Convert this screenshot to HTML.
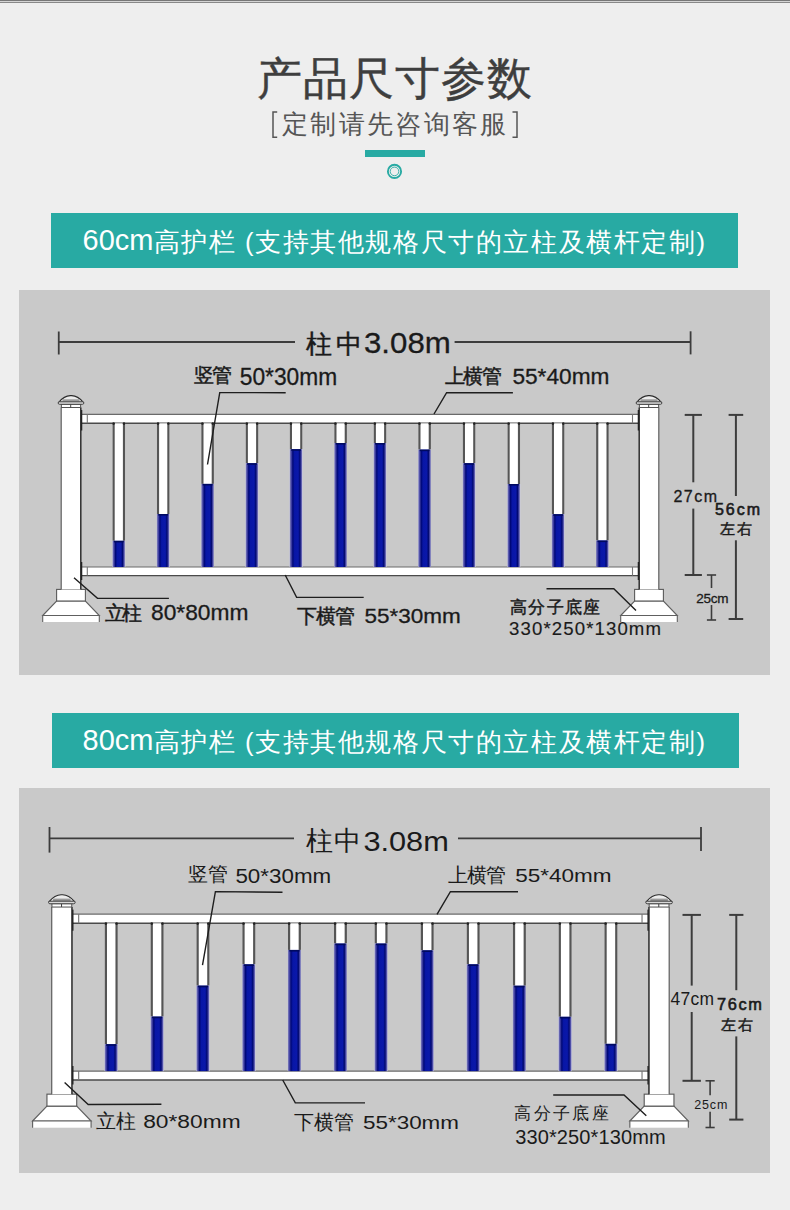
<!DOCTYPE html>
<html><head><meta charset="utf-8"><style>
html,body{margin:0;padding:0}
body{width:790px;height:1210px;background:#eeeeee;position:relative;overflow:hidden;font-family:"Liberation Sans",sans-serif}
.banner{position:absolute;background:#28aaa3}
.gbox{position:absolute;left:19px;width:751px;height:385px;background:#c9c9c9}
svg{position:absolute;left:0;top:0}
svg text{font-family:"Liberation Sans",sans-serif}
</style></head><body>
<div style="position:absolute;left:0;top:0;width:790px;height:1px;background:#777"></div><div style="position:absolute;left:0;top:1px;width:790px;height:1px;background:#d4d4d4"></div><div style="position:absolute;left:0;top:2px;width:790px;height:1px;background:#888"></div>
<div class="banner" style="left:51px;top:213px;width:687px;height:55px"></div>
<div class="banner" style="left:52px;top:713px;width:687px;height:55px"></div>
<div class="gbox" style="top:290px"></div>
<div class="gbox" style="top:788px"></div>
<svg width="790" height="1210" viewBox="0 0 790 1210">
<text x="257.00" y="94.00" font-size="45.29" fill="#3e3e3e" stroke="#3e3e3e" stroke-width="0.4" textLength="275.00" lengthAdjust="spacing">产品尺寸参数</text>
<text x="282.00" y="133.45" font-size="25.85" fill="#555" textLength="224.20" lengthAdjust="spacing">定制请先咨询客服</text>
<path d="M277.2,112 H273 V137.2 H277.2" fill="none" stroke="#555" stroke-width="1.5"/>
<path d="M512.5,112 H517 V137.2 H512.5" fill="none" stroke="#555" stroke-width="1.5"/>
<rect x="365" y="150" width="60" height="7" fill="#28aaa3"/>
<circle cx="394.5" cy="171.4" r="6.6" fill="none" stroke="#28aaa3" stroke-width="1.9"/>
<circle cx="394.5" cy="171.4" r="4.3" fill="none" stroke="#28aaa3" stroke-width="0.9"/>
<text x="82.60" y="249.80" font-size="28.81" fill="#fff" textLength="70.80" lengthAdjust="spacingAndGlyphs">60cm</text>
<text x="153.60" y="250.50" font-size="25.60" fill="#fff" textLength="551.40" lengthAdjust="spacing">高护栏 (支持其他规格尺寸的立柱及横杆定制)</text>
<text x="82.60" y="749.80" font-size="28.81" fill="#fff" textLength="70.80" lengthAdjust="spacingAndGlyphs">80cm</text>
<text x="153.60" y="750.50" font-size="25.60" fill="#fff" textLength="551.40" lengthAdjust="spacing">高护栏 (支持其他规格尺寸的立柱及横杆定制)</text>
<defs><linearGradient id="bg" x1="0" y1="0" x2="1" y2="0"><stop offset="0" stop-color="#8a8ac0"/><stop offset="0.14" stop-color="#3c3ca0"/><stop offset="0.24" stop-color="#000878"/><stop offset="0.38" stop-color="#0816a6"/><stop offset="0.66" stop-color="#0a18aa"/><stop offset="0.8" stop-color="#000870"/><stop offset="0.9" stop-color="#4a4aa6"/><stop offset="1" stop-color="#a8a8cc"/></linearGradient></defs>
<g id="f1"><rect x="81" y="414.3" width="558" height="9.0" fill="#fff"/>
<line x1="81" y1="414.3" x2="639" y2="414.3" stroke="#6a6a6a" stroke-width="1.2"/>
<line x1="81" y1="423.3" x2="639" y2="423.3" stroke="#4a4a4a" stroke-width="1.4"/>
<line x1="87.3" y1="414.3" x2="87.3" y2="423.3" stroke="#777" stroke-width="1.1"/>
<line x1="632.5" y1="414.3" x2="632.5" y2="423.3" stroke="#777" stroke-width="1.1"/>
<line x1="81.4" y1="410" x2="81.4" y2="430.5" stroke="#151515" stroke-width="1.7"/>
<line x1="638.6" y1="410" x2="638.6" y2="430.5" stroke="#151515" stroke-width="1.7"/>
<rect x="81" y="567.0" width="558" height="8.6" fill="#fff"/>
<line x1="81" y1="567.0" x2="639" y2="567.0" stroke="#6a6a6a" stroke-width="1.2"/>
<line x1="81" y1="575.6" x2="639" y2="575.6" stroke="#4a4a4a" stroke-width="1.4"/>
<line x1="87.3" y1="567.0" x2="87.3" y2="575.6" stroke="#777" stroke-width="1.1"/>
<line x1="632.5" y1="567.0" x2="632.5" y2="575.6" stroke="#777" stroke-width="1.1"/>
<line x1="81.4" y1="562" x2="81.4" y2="580" stroke="#151515" stroke-width="1.7"/>
<line x1="638.6" y1="562" x2="638.6" y2="580" stroke="#151515" stroke-width="1.7"/>
<rect x="112.4" y="423.3" width="12.8" height="143.7" fill="#fff"/>
<line x1="113.60000000000001" y1="423" x2="113.60000000000001" y2="540.8" stroke="#555" stroke-width="2.2"/>
<line x1="124.0" y1="423" x2="124.0" y2="540.8" stroke="#555" stroke-width="2.2"/>
<circle cx="113.60000000000001" cy="423.6" r="1.3" fill="#222"/><circle cx="124.0" cy="423.6" r="1.3" fill="#222"/>
<rect x="112.4" y="540.8" width="12.8" height="26.2" fill="url(#bg)"/>
<rect x="113.9" y="540.8" width="9.8" height="1.6" fill="#000a60"/>
<rect x="156.8" y="423.3" width="12.8" height="143.7" fill="#fff"/>
<line x1="158.0" y1="423" x2="158.0" y2="514" stroke="#555" stroke-width="2.2"/>
<line x1="168.40000000000003" y1="423" x2="168.40000000000003" y2="514" stroke="#555" stroke-width="2.2"/>
<circle cx="158.0" cy="423.6" r="1.3" fill="#222"/><circle cx="168.40000000000003" cy="423.6" r="1.3" fill="#222"/>
<rect x="156.8" y="514" width="12.8" height="53.0" fill="url(#bg)"/>
<rect x="158.3" y="514" width="9.8" height="1.6" fill="#000a60"/>
<rect x="201.2" y="423.3" width="12.8" height="143.7" fill="#fff"/>
<line x1="202.39999999999998" y1="423" x2="202.39999999999998" y2="483.9" stroke="#555" stroke-width="2.2"/>
<line x1="212.8" y1="423" x2="212.8" y2="483.9" stroke="#555" stroke-width="2.2"/>
<circle cx="202.39999999999998" cy="423.6" r="1.3" fill="#222"/><circle cx="212.8" cy="423.6" r="1.3" fill="#222"/>
<rect x="201.2" y="483.9" width="12.8" height="83.1" fill="url(#bg)"/>
<rect x="202.7" y="483.9" width="9.8" height="1.6" fill="#000a60"/>
<rect x="245.6" y="423.3" width="12.8" height="143.7" fill="#fff"/>
<line x1="246.79999999999998" y1="423" x2="246.79999999999998" y2="463.2" stroke="#555" stroke-width="2.2"/>
<line x1="257.2" y1="423" x2="257.2" y2="463.2" stroke="#555" stroke-width="2.2"/>
<circle cx="246.79999999999998" cy="423.6" r="1.3" fill="#222"/><circle cx="257.2" cy="423.6" r="1.3" fill="#222"/>
<rect x="245.6" y="463.2" width="12.8" height="103.8" fill="url(#bg)"/>
<rect x="247.1" y="463.2" width="9.8" height="1.6" fill="#000a60"/>
<rect x="289.7" y="423.3" width="12.8" height="143.7" fill="#fff"/>
<line x1="290.9" y1="423" x2="290.9" y2="449.2" stroke="#555" stroke-width="2.2"/>
<line x1="301.3" y1="423" x2="301.3" y2="449.2" stroke="#555" stroke-width="2.2"/>
<circle cx="290.9" cy="423.6" r="1.3" fill="#222"/><circle cx="301.3" cy="423.6" r="1.3" fill="#222"/>
<rect x="289.7" y="449.2" width="12.8" height="117.8" fill="url(#bg)"/>
<rect x="291.2" y="449.2" width="9.8" height="1.6" fill="#000a60"/>
<rect x="334.2" y="423.3" width="12.8" height="143.7" fill="#fff"/>
<line x1="335.4" y1="423" x2="335.4" y2="443" stroke="#555" stroke-width="2.2"/>
<line x1="345.8" y1="423" x2="345.8" y2="443" stroke="#555" stroke-width="2.2"/>
<circle cx="335.4" cy="423.6" r="1.3" fill="#222"/><circle cx="345.8" cy="423.6" r="1.3" fill="#222"/>
<rect x="334.2" y="443" width="12.8" height="124.0" fill="url(#bg)"/>
<rect x="335.7" y="443" width="9.8" height="1.6" fill="#000a60"/>
<rect x="373.6" y="423.3" width="12.8" height="143.7" fill="#fff"/>
<line x1="374.8" y1="423" x2="374.8" y2="443" stroke="#555" stroke-width="2.2"/>
<line x1="385.20000000000005" y1="423" x2="385.20000000000005" y2="443" stroke="#555" stroke-width="2.2"/>
<circle cx="374.8" cy="423.6" r="1.3" fill="#222"/><circle cx="385.20000000000005" cy="423.6" r="1.3" fill="#222"/>
<rect x="373.6" y="443" width="12.8" height="124.0" fill="url(#bg)"/>
<rect x="375.1" y="443" width="9.8" height="1.6" fill="#000a60"/>
<rect x="418.2" y="423.3" width="12.8" height="143.7" fill="#fff"/>
<line x1="419.4" y1="423" x2="419.4" y2="449.6" stroke="#555" stroke-width="2.2"/>
<line x1="429.8" y1="423" x2="429.8" y2="449.6" stroke="#555" stroke-width="2.2"/>
<circle cx="419.4" cy="423.6" r="1.3" fill="#222"/><circle cx="429.8" cy="423.6" r="1.3" fill="#222"/>
<rect x="418.2" y="449.6" width="12.8" height="117.4" fill="url(#bg)"/>
<rect x="419.7" y="449.6" width="9.8" height="1.6" fill="#000a60"/>
<rect x="462.7" y="423.3" width="12.8" height="143.7" fill="#fff"/>
<line x1="463.9" y1="423" x2="463.9" y2="463.2" stroke="#555" stroke-width="2.2"/>
<line x1="474.3" y1="423" x2="474.3" y2="463.2" stroke="#555" stroke-width="2.2"/>
<circle cx="463.9" cy="423.6" r="1.3" fill="#222"/><circle cx="474.3" cy="423.6" r="1.3" fill="#222"/>
<rect x="462.7" y="463.2" width="12.8" height="103.8" fill="url(#bg)"/>
<rect x="464.2" y="463.2" width="9.8" height="1.6" fill="#000a60"/>
<rect x="507.4" y="423.3" width="12.8" height="143.7" fill="#fff"/>
<line x1="508.59999999999997" y1="423" x2="508.59999999999997" y2="484" stroke="#555" stroke-width="2.2"/>
<line x1="518.9999999999999" y1="423" x2="518.9999999999999" y2="484" stroke="#555" stroke-width="2.2"/>
<circle cx="508.59999999999997" cy="423.6" r="1.3" fill="#222"/><circle cx="518.9999999999999" cy="423.6" r="1.3" fill="#222"/>
<rect x="507.4" y="484" width="12.8" height="83.0" fill="url(#bg)"/>
<rect x="508.9" y="484" width="9.8" height="1.6" fill="#000a60"/>
<rect x="551.7" y="423.3" width="12.8" height="143.7" fill="#fff"/>
<line x1="552.9000000000001" y1="423" x2="552.9000000000001" y2="514.2" stroke="#555" stroke-width="2.2"/>
<line x1="563.3" y1="423" x2="563.3" y2="514.2" stroke="#555" stroke-width="2.2"/>
<circle cx="552.9000000000001" cy="423.6" r="1.3" fill="#222"/><circle cx="563.3" cy="423.6" r="1.3" fill="#222"/>
<rect x="551.7" y="514.2" width="12.8" height="52.8" fill="url(#bg)"/>
<rect x="553.2" y="514.2" width="9.8" height="1.6" fill="#000a60"/>
<rect x="596" y="423.3" width="12.8" height="143.7" fill="#fff"/>
<line x1="597.2" y1="423" x2="597.2" y2="540.5" stroke="#555" stroke-width="2.2"/>
<line x1="607.5999999999999" y1="423" x2="607.5999999999999" y2="540.5" stroke="#555" stroke-width="2.2"/>
<circle cx="597.2" cy="423.6" r="1.3" fill="#222"/><circle cx="607.5999999999999" cy="423.6" r="1.3" fill="#222"/>
<rect x="596" y="540.5" width="12.8" height="26.5" fill="url(#bg)"/>
<rect x="597.5" y="540.5" width="9.8" height="1.6" fill="#000a60"/>
<path d="M42.7,615.5 L56.6,601 L85.4,601 L99.3,615.5 Z" fill="#fff" stroke="#606060" stroke-width="1.1"/>
<rect x="42.7" y="615.5" width="56.6" height="6.5" fill="#fff"/>
<path d="M42.7,622 V615.5 H99.3 V622" fill="none" stroke="#606060" stroke-width="1.1"/>
<rect x="56.6" y="589.4" width="28.8" height="11.6" fill="#fff" stroke="#5a5a5a" stroke-width="1.1"/>
<rect x="61.2" y="407.5" width="19.6" height="182" fill="#fff"/>
<line x1="61.2" y1="407.5" x2="61.2" y2="589.4" stroke="#606060" stroke-width="1.2"/>
<line x1="80.8" y1="407.5" x2="80.8" y2="589.4" stroke="#2e2e2e" stroke-width="1.5"/>
<rect x="61.4" y="404.2" width="19.2" height="3.3" fill="#fff" stroke="#555" stroke-width="1"/>
<line x1="70.7" y1="404.2" x2="70.7" y2="407.5" stroke="#444" stroke-width="1"/>
<path d="M58.7,402.3 Q64.5,395.2 71.0,395.6 Q77.5,395.2 83.3,402.3 Z" fill="#ececec" stroke="#2a2a2a" stroke-width="1.1"/>
<rect x="62.5" y="399.3" width="17" height="2.5" fill="#9a9a9a"/>
<rect x="58.2" y="401.8" width="25.6" height="2.5" rx="1.25" fill="#d8d8d8" stroke="#3a3a3a" stroke-width="0.9"/>
<path d="M620.7,615.5 L634.6,601 L663.4,601 L677.3,615.5 Z" fill="#fff" stroke="#606060" stroke-width="1.1"/>
<rect x="620.7" y="615.5" width="56.6" height="6.5" fill="#fff"/>
<path d="M620.7,622 V615.5 H677.3 V622" fill="none" stroke="#606060" stroke-width="1.1"/>
<rect x="634.6" y="589.4" width="28.8" height="11.6" fill="#fff" stroke="#5a5a5a" stroke-width="1.1"/>
<rect x="639.2" y="407.5" width="19.6" height="182" fill="#fff"/>
<line x1="639.2" y1="407.5" x2="639.2" y2="589.4" stroke="#2e2e2e" stroke-width="1.5"/>
<line x1="658.8" y1="407.5" x2="658.8" y2="589.4" stroke="#606060" stroke-width="1.2"/>
<rect x="639.4" y="404.2" width="19.2" height="3.3" fill="#fff" stroke="#555" stroke-width="1"/>
<line x1="648.7" y1="404.2" x2="648.7" y2="407.5" stroke="#444" stroke-width="1"/>
<path d="M636.7,402.3 Q642.5,395.2 649.0,395.6 Q655.5,395.2 661.3,402.3 Z" fill="#ececec" stroke="#2a2a2a" stroke-width="1.1"/>
<rect x="640.5" y="399.3" width="17" height="2.5" fill="#9a9a9a"/>
<rect x="636.2" y="401.8" width="25.6" height="2.5" rx="1.25" fill="#d8d8d8" stroke="#3a3a3a" stroke-width="0.9"/></g>
<use href="#f1" transform="matrix(1.0333 0 0 1.0287 -11.53 487.85)"/>
<line x1="58.75" y1="331.5" x2="58.75" y2="354.5" stroke="#3c3c3c" stroke-width="1.8"/>
<line x1="58.75" y1="342" x2="295" y2="342" stroke="#3c3c3c" stroke-width="1.8"/>
<line x1="454.6" y1="342" x2="690.6" y2="342" stroke="#3c3c3c" stroke-width="1.8"/>
<line x1="690.6" y1="331.3" x2="690.6" y2="354.4" stroke="#3c3c3c" stroke-width="1.8"/>
<polyline points="285.7,392.7 219.75,392.6 207.5,464.5" fill="none" stroke="#1e1e1e" stroke-width="1.4"/>
<polyline points="512.9,392.7 446.6,392.7 434,414" fill="none" stroke="#1e1e1e" stroke-width="1.4"/>
<polyline points="74,577.7 97.5,598.4 168.9,598.4" fill="none" stroke="#1e1e1e" stroke-width="1.4"/>
<polyline points="285.2,575 296.6,597.4 363.7,597.4" fill="none" stroke="#1e1e1e" stroke-width="1.4"/>
<polyline points="546.5,588.8 613.8,588.8 636,610.5" fill="none" stroke="#1e1e1e" stroke-width="1.4"/>
<line x1="684.6999999999999" y1="414.9" x2="701.9" y2="414.9" stroke="#3c3c3c" stroke-width="2.0"/>
<line x1="684.6999999999999" y1="575" x2="701.9" y2="575" stroke="#3c3c3c" stroke-width="2.0"/>
<line x1="693.3" y1="414.9" x2="693.3" y2="482.3" stroke="#3c3c3c" stroke-width="2.0"/>
<line x1="693.3" y1="508.6" x2="693.3" y2="575" stroke="#3c3c3c" stroke-width="2.0"/>
<line x1="728.6" y1="414.9" x2="743.1999999999999" y2="414.9" stroke="#3c3c3c" stroke-width="2.0"/>
<line x1="728.6" y1="619" x2="743.1999999999999" y2="619" stroke="#3c3c3c" stroke-width="2.0"/>
<line x1="735.9" y1="414.9" x2="735.9" y2="496" stroke="#3c3c3c" stroke-width="2.0"/>
<line x1="735.9" y1="540.3" x2="735.9" y2="619" stroke="#3c3c3c" stroke-width="2.0"/>
<line x1="706.9" y1="575" x2="716.1" y2="575" stroke="#3c3c3c" stroke-width="1.6"/>
<line x1="706.9" y1="620" x2="716.1" y2="620" stroke="#3c3c3c" stroke-width="1.6"/>
<line x1="711.5" y1="575" x2="711.5" y2="588" stroke="#3c3c3c" stroke-width="1.6"/>
<line x1="711.5" y1="605" x2="711.5" y2="620" stroke="#3c3c3c" stroke-width="1.6"/>
<text x="306.00" y="352.75" font-size="25.99" fill="#1a1a1a" stroke="#1a1a1a" stroke-width="0.45" textLength="56.20" lengthAdjust="spacing">柱中</text>
<text x="364.00" y="353.30" font-size="29.67" fill="#1a1a1a" stroke="#1a1a1a" stroke-width="0.3" textLength="86.80" lengthAdjust="spacingAndGlyphs">3.08m</text>
<text x="194.20" y="382.45" font-size="19.50" fill="#1a1a1a" stroke="#1a1a1a" stroke-width="0.45" textLength="37.60" lengthAdjust="spacing">竖管</text>
<text x="239.80" y="385.00" font-size="23.27" fill="#1a1a1a" stroke="#1a1a1a" stroke-width="0.3" textLength="97.40" lengthAdjust="spacingAndGlyphs">50*30mm</text>
<text x="444.60" y="382.60" font-size="19.50" fill="#1a1a1a" stroke="#1a1a1a" stroke-width="0.45" textLength="57.40" lengthAdjust="spacing">上横管</text>
<text x="512.40" y="384.10" font-size="21.82" fill="#1a1a1a" stroke="#1a1a1a" stroke-width="0.3" textLength="97.00" lengthAdjust="spacingAndGlyphs">55*40mm</text>
<text x="104.80" y="619.70" font-size="19.50" fill="#1a1a1a" stroke="#1a1a1a" stroke-width="0.45" textLength="37.40" lengthAdjust="spacing">立柱</text>
<text x="151.00" y="619.50" font-size="22.50" fill="#1a1a1a" stroke="#1a1a1a" stroke-width="0.3" textLength="97.40" lengthAdjust="spacingAndGlyphs">80*80mm</text>
<text x="297.00" y="622.85" font-size="19.50" fill="#1a1a1a" stroke="#1a1a1a" stroke-width="0.45" textLength="58.00" lengthAdjust="spacing">下横管</text>
<text x="364.40" y="623.20" font-size="20.65" fill="#1a1a1a" stroke="#1a1a1a" stroke-width="0.3" textLength="96.40" lengthAdjust="spacingAndGlyphs">55*30mm</text>
<text x="510.00" y="613.05" font-size="16.50" fill="#1a1a1a" stroke="#1a1a1a" stroke-width="0.45" textLength="90.20" lengthAdjust="spacing">高分子底座</text>
<text x="509.00" y="635.25" font-size="18.63" fill="#1a1a1a" stroke="#1a1a1a" stroke-width="0.15" textLength="152.00" lengthAdjust="spacing">330*250*130mm</text>
<text x="673.40" y="501.50" font-size="16.00" fill="#1a1a1a" stroke="#1a1a1a" stroke-width="0.3" textLength="43.60" lengthAdjust="spacing">27cm</text>
<text x="715.00" y="514.50" font-size="16.00" fill="#1a1a1a" stroke="#1a1a1a" stroke-width="0.6" textLength="45.00" lengthAdjust="spacing">56cm</text>
<text x="720.00" y="534.00" font-size="15.00" fill="#1a1a1a" stroke="#1a1a1a" stroke-width="0.45" textLength="32.00" lengthAdjust="spacing">左右</text>
<text x="696.20" y="602.50" font-size="13.50" fill="#1a1a1a" stroke="#1a1a1a" stroke-width="0.3" textLength="32.20" lengthAdjust="spacing">25cm</text>
<line x1="49.5" y1="827" x2="49.5" y2="852.6" stroke="#3c3c3c" stroke-width="1.8"/>
<line x1="49.5" y1="838.4" x2="294" y2="838.4" stroke="#3c3c3c" stroke-width="1.8"/>
<line x1="458" y1="838.4" x2="701" y2="838.4" stroke="#3c3c3c" stroke-width="1.8"/>
<line x1="701" y1="827" x2="701" y2="851" stroke="#3c3c3c" stroke-width="1.8"/>
<polyline points="282.5,892.3 215.4,891.6 202.5,965.1" fill="none" stroke="#1e1e1e" stroke-width="1.4"/>
<polyline points="518,891.7 450.4,891.7 437,914.4" fill="none" stroke="#1e1e1e" stroke-width="1.4"/>
<polyline points="161.4,1104.2 88.2,1104.5 64.6,1082.5" fill="none" stroke="#1e1e1e" stroke-width="1.4"/>
<polyline points="365,1102.9 295.3,1102.9 282.7,1080" fill="none" stroke="#1e1e1e" stroke-width="1.4"/>
<polyline points="553.2,1095 624,1095 646.3,1115.7" fill="none" stroke="#1e1e1e" stroke-width="1.4"/>
<line x1="682.5" y1="914.9" x2="700.9000000000001" y2="914.9" stroke="#3c3c3c" stroke-width="2.0"/>
<line x1="682.5" y1="1080.8" x2="700.9000000000001" y2="1080.8" stroke="#3c3c3c" stroke-width="2.0"/>
<line x1="691.7" y1="914.9" x2="691.7" y2="985.6" stroke="#3c3c3c" stroke-width="2.0"/>
<line x1="691.7" y1="1012" x2="691.7" y2="1080.8" stroke="#3c3c3c" stroke-width="2.0"/>
<line x1="729.1999999999999" y1="914.9" x2="743.4" y2="914.9" stroke="#3c3c3c" stroke-width="2.0"/>
<line x1="729.1999999999999" y1="1119.6" x2="743.4" y2="1119.6" stroke="#3c3c3c" stroke-width="2.0"/>
<line x1="736.3" y1="914.9" x2="736.3" y2="990.2" stroke="#3c3c3c" stroke-width="2.0"/>
<line x1="736.3" y1="1036.4" x2="736.3" y2="1119.6" stroke="#3c3c3c" stroke-width="2.0"/>
<line x1="705.5" y1="1080.8" x2="714.7" y2="1080.8" stroke="#3c3c3c" stroke-width="1.6"/>
<line x1="705.5" y1="1127.5" x2="714.7" y2="1127.5" stroke="#3c3c3c" stroke-width="1.6"/>
<line x1="710.1" y1="1080.8" x2="710.1" y2="1095.2" stroke="#3c3c3c" stroke-width="1.6"/>
<line x1="710.1" y1="1111.7" x2="710.1" y2="1127.5" stroke="#3c3c3c" stroke-width="1.6"/>
<text x="306.20" y="849.55" font-size="26.89" fill="#1a1a1a" textLength="55.00" lengthAdjust="spacing">柱中</text>
<text x="363.40" y="850.65" font-size="28.00" fill="#1a1a1a" textLength="85.40" lengthAdjust="spacingAndGlyphs">3.08m</text>
<text x="187.80" y="881.00" font-size="19.50" fill="#1a1a1a" textLength="40.40" lengthAdjust="spacing">竖管</text>
<text x="235.40" y="882.85" font-size="19.66" fill="#1a1a1a" textLength="95.80" lengthAdjust="spacingAndGlyphs">50*30mm</text>
<text x="448.00" y="881.75" font-size="19.50" fill="#1a1a1a" textLength="57.60" lengthAdjust="spacing">上横管</text>
<text x="515.20" y="881.60" font-size="18.78" fill="#1a1a1a" textLength="96.40" lengthAdjust="spacingAndGlyphs">55*40mm</text>
<text x="96.40" y="1127.80" font-size="19.50" fill="#1a1a1a" textLength="40.00" lengthAdjust="spacing">立柱</text>
<text x="143.20" y="1128.00" font-size="17.43" fill="#1a1a1a" textLength="97.40" lengthAdjust="spacingAndGlyphs">80*80mm</text>
<text x="294.40" y="1129.30" font-size="19.50" fill="#1a1a1a" textLength="59.60" lengthAdjust="spacing">下横管</text>
<text x="363.00" y="1128.60" font-size="18.78" fill="#1a1a1a" textLength="96.00" lengthAdjust="spacingAndGlyphs">55*30mm</text>
<text x="514.20" y="1119.05" font-size="16.50" fill="#1a1a1a" textLength="94.40" lengthAdjust="spacing">高分子底座</text>
<text x="515.20" y="1143.75" font-size="20.03" fill="#1a1a1a" textLength="150.40" lengthAdjust="spacing">330*250*130mm</text>
<text x="670.40" y="1005.45" font-size="17.45" fill="#1a1a1a" textLength="43.60" lengthAdjust="spacing">47cm</text>
<text x="717.00" y="1010.15" font-size="16.37" fill="#1a1a1a" stroke="#1a1a1a" stroke-width="0.6" textLength="45.00" lengthAdjust="spacing">76cm</text>
<text x="721.40" y="1029.95" font-size="15.00" fill="#1a1a1a" stroke="#1a1a1a" stroke-width="0.45" textLength="31.80" lengthAdjust="spacing">左右</text>
<text x="694.20" y="1109.35" font-size="12.50" fill="#1a1a1a" textLength="33.20" lengthAdjust="spacing">25cm</text>
</svg>
</body></html>
